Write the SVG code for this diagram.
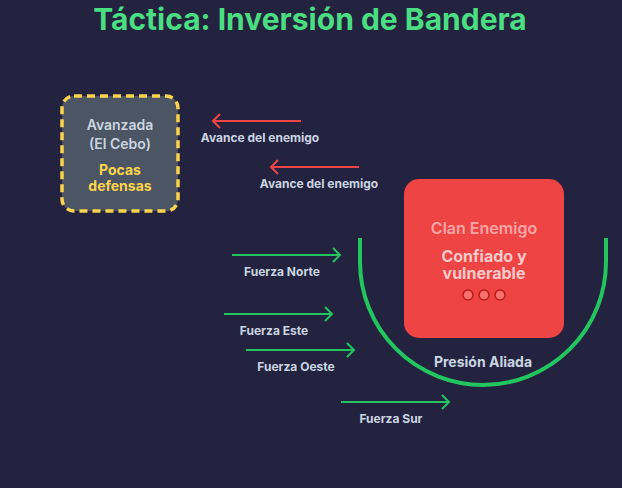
<svg xmlns="http://www.w3.org/2000/svg" width="622" height="488" viewBox="0 0 622 488">
  <defs>
    <style>
      text { font-family: Inter, "Liberation Sans", sans-serif; text-anchor: middle; }
      .title { font-size: 30px; font-weight: 700; fill: #4ade80; }
      .lbl { font-size: 12px; font-weight: 700; fill: #cbd5e1; }
      .bait { font-size: 14px; font-weight: 600; fill: #cbd5e1; }
      .weak { font-size: 14px; font-weight: 700; fill: #fcd34d; }
      .enemy { font-size: 16px; font-weight: 600; fill: #fca5a5; }
      .state { font-size: 16px; font-weight: 700; fill: #fecaca; }
      .press { font-size: 14px; font-weight: 700; fill: #cbd5e1; }
      .red { stroke: #ef4444; stroke-width: 2; fill: none; }
      .green { stroke: #22c55e; stroke-width: 2; fill: none; }
      .dot { fill: #f87171; stroke: #b91c1c; stroke-width: 1.5; }
    </style>
    <marker id="headRed" markerUnits="userSpaceOnUse" markerWidth="12" markerHeight="18" refX="9" refY="9" orient="auto" viewBox="0 0 12 18">
      <path d="M2 2 L9 9 L2 16" fill="none" stroke="#ef4444" stroke-width="2"/>
    </marker>
    <marker id="headGreen" markerUnits="userSpaceOnUse" markerWidth="12" markerHeight="18" refX="9" refY="9" orient="auto" viewBox="0 0 12 18">
      <path d="M2 2 L9 9 L2 16" fill="none" stroke="#22c55e" stroke-width="2"/>
    </marker>
  </defs>

  <rect width="622" height="488" fill="#232340"/>

  <text class="title" x="310" y="30">Táctica: Inversión de Bandera</text>

  <g id="avanzada">
    <rect x="62" y="96" width="116" height="115" rx="12" fill="#4b5563" stroke="#fcd34d" stroke-width="3.5" stroke-dasharray="8 5"/>
    <text class="bait" x="120" y="130">Avanzada</text>
    <text class="bait" x="120" y="149">(El Cebo)</text>
    <text class="weak" x="120" y="175">Pocas</text>
    <text class="weak" x="120" y="191">defensas</text>
  </g>

  <g id="clan-enemigo">
    <rect x="404" y="179" width="160" height="159" rx="15" fill="#ef4444"/>
    <text class="enemy" x="484" y="234">Clan Enemigo</text>
    <text class="state" x="484" y="262">Confiado y</text>
    <text class="state" x="484" y="279">vulnerable</text>
    <circle class="dot" cx="468" cy="295" r="5"/>
    <circle class="dot" cx="484" cy="295" r="5"/>
    <circle class="dot" cx="500" cy="295" r="5"/>
  </g>

  <g id="presion-aliada">
    <path d="M360 238 L360 262 A123 123 0 0 0 606 262 L606 238" fill="none" stroke="#22c55e" stroke-width="4"/>
    <text class="press" x="483" y="367">Presión Aliada</text>
  </g>

  <g id="connectors">
    <line class="red" x1="301" y1="121" x2="213" y2="121" marker-end="url(#headRed)"/>
    <text class="lbl" x="260" y="142">Avance del enemigo</text>
    <line class="red" x1="359" y1="167" x2="271" y2="167" marker-end="url(#headRed)"/>
    <text class="lbl" x="319" y="188">Avance del enemigo</text>

    <line class="green" x1="232" y1="255" x2="340" y2="255" marker-end="url(#headGreen)"/>
    <text class="lbl" x="282" y="276">Fuerza Norte</text>
    <line class="green" x1="224" y1="314" x2="332" y2="314" marker-end="url(#headGreen)"/>
    <text class="lbl" x="274" y="335">Fuerza Este</text>
    <line class="green" x1="246" y1="350" x2="354" y2="350" marker-end="url(#headGreen)"/>
    <text class="lbl" x="296" y="371">Fuerza Oeste</text>
    <line class="green" x1="341" y1="402" x2="449" y2="402" marker-end="url(#headGreen)"/>
    <text class="lbl" x="391" y="423">Fuerza Sur</text>
  </g>
</svg>
